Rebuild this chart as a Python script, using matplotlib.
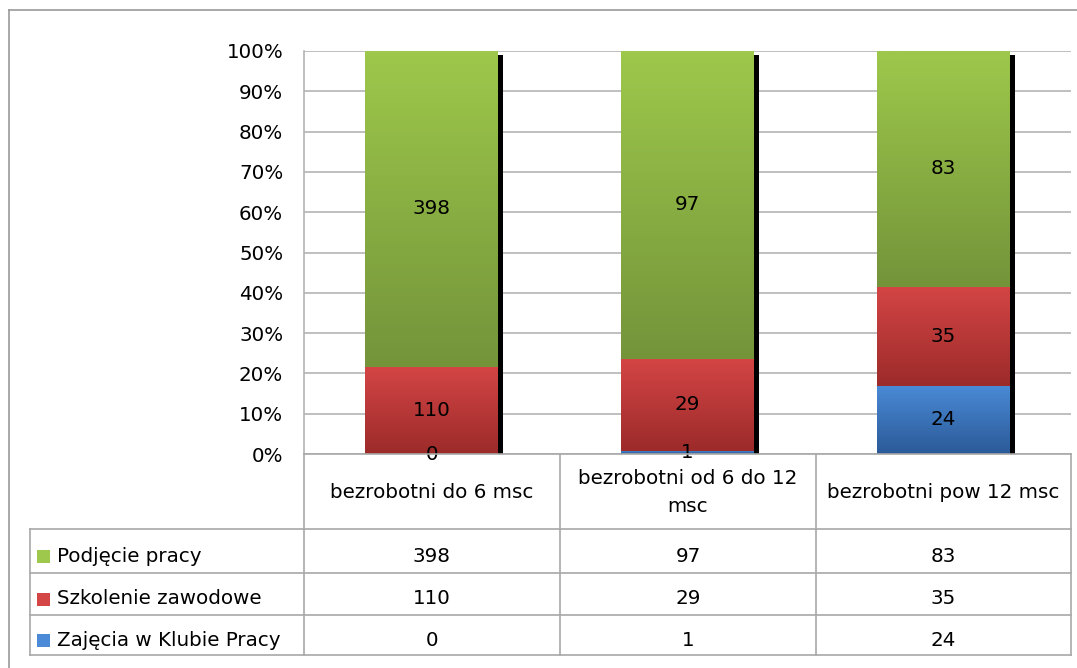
import numpy as np
import matplotlib
matplotlib.use("Agg")
import matplotlib.pyplot as plt
import matplotlib.transforms as mtransforms
from matplotlib.lines import Line2D
from matplotlib.colors import LinearSegmentedColormap

plt.rcParams['font.family'] = ['DejaVu Sans']

# dane
categories = ['bezrobotni do 6 msc', 'bezrobotni od 6 do 12\nmsc', 'bezrobotni pow 12 msc']
series_names = ['Zajęcia w Klubie Pracy', 'Szkolenie zawodowe', 'Podjęcie pracy']
klub = [0, 1, 24]
szkolenie = [110, 29, 35]
praca = [398, 97, 83]
yticks_labels = ['0%', '10%', '20%', '30%', '40%', '50%', '60%', '70%', '80%', '90%', '100%']

series = [klub, szkolenie, praca]
# (góra, dół) gradientu
colors = [('#4A8AD6', '#2B5A98'), ('#D44545', '#9C2B2A'), ('#9DC84B', '#74943A')]
FS = 14.3

W, H = 1077, 668
fig = plt.figure(figsize=(W / 100, H / 100), dpi=100)

def fx(px):
    return px / W

def fy(py):
    return 1 - py / H

L, R, T, B = 304, 1071, 51, 454
ax = fig.add_axes([fx(L), fy(B), fx(R - L), (B - T) / H])

totals = np.sum(series, axis=0)
x = np.arange(len(categories))
bw = 0.52
ax.set_xlim(-0.5, len(categories) - 0.5)
ax.set_ylim(0, 1)

# cień po prawej stronie słupków
shadow_tr = mtransforms.offset_copy(ax.transData, fig=fig, x=5, y=-4, units='dots')
ax.bar(x, np.ones(len(x)), bw, color='black', transform=shadow_tr, zorder=1)

bottom = np.zeros(len(x))
for vals, (ctop, cbot), name in zip(series, colors, series_names):
    frac = np.array(vals) / totals
    bars = ax.bar(x, frac, bw, bottom=bottom, color=cbot, zorder=2, label=name)
    cmap = LinearSegmentedColormap.from_list('g', [cbot, ctop])
    for b, v, f, b0 in zip(bars, vals, frac, bottom):
        if f > 0:
            grad = np.linspace(0, 1, 100).reshape(-1, 1)
            im = ax.imshow(grad, cmap=cmap, aspect='auto', origin='lower',
                           extent=[b.get_x(), b.get_x() + bw, b0, b0 + f], zorder=3)
            im.set_clip_path(b)
        ax.text(b.get_x() + bw / 2, b0 + f / 2, str(v), ha='center', va='center',
                fontsize=FS, color='black', zorder=5, clip_on=False)
    bottom = bottom + frac

ax.set_yticks(np.linspace(0, 1, 11))
ax.set_yticklabels(yticks_labels, fontsize=FS)
ax.tick_params(axis='y', length=0, pad=15)
ax.set_xticks([])
ax.yaxis.grid(True, color='#B4B4B4', linewidth=1.2)
ax.set_axisbelow(True)
for s in ['top', 'right', 'bottom']:
    ax.spines[s].set_visible(False)
ax.spines['left'].set_color('#B4B4B4')
ax.spines['left'].set_linewidth(1.2)

# obramowanie wykresu
lc = '#9A9A9A'
fig.add_artist(Line2D([fx(9), fx(9)], [fy(10), fy(668)], color=lc, lw=1.2))
fig.add_artist(Line2D([fx(9), fx(1077)], [fy(10), fy(10)], color=lc, lw=1.2))

# tabela danych
tc = '#A8A8A8'
cols = [304, 560, 816, 1071]
rows = [529, 573, 615, 655]
fig.add_artist(Line2D([fx(L), fx(R)], [fy(B), fy(B)], color=tc, lw=1.2))
for cx in cols:
    fig.add_artist(Line2D([fx(cx), fx(cx)], [fy(B), fy(rows[-1])], color=tc, lw=1.2))
fig.add_artist(Line2D([fx(30), fx(30)], [fy(rows[0]), fy(rows[-1])], color=tc, lw=1.2))
for ry in rows:
    fig.add_artist(Line2D([fx(30), fx(R)], [fy(ry), fy(ry)], color=tc, lw=1.2))

for i, cat in enumerate(categories):
    cx = (cols[i] + cols[i + 1]) / 2
    fig.text(fx(cx), fy(493), cat, ha='center', va='center', fontsize=FS,
             linespacing=1.6)

table_rows = list(zip(series_names[::-1], series[::-1], [c for c in colors[::-1]]))
for j, (name, vals, (ctop, cbot)) in enumerate(table_rows):
    cy = (rows[j] + rows[j + 1]) / 2 + 5
    fig.add_artist(plt.Rectangle((fx(37), fy(cy + 7)), fx(13), 13 / H,
                                 facecolor=ctop, edgecolor='none'))
    fig.text(fx(57), fy(cy), name, ha='left', va='center', fontsize=FS)
    for i, v in enumerate(vals):
        cx = (cols[i] + cols[i + 1]) / 2
        fig.text(fx(cx), fy(cy), str(v), ha='center', va='center', fontsize=FS)

fig.savefig('out.png', dpi=100, facecolor='white')
